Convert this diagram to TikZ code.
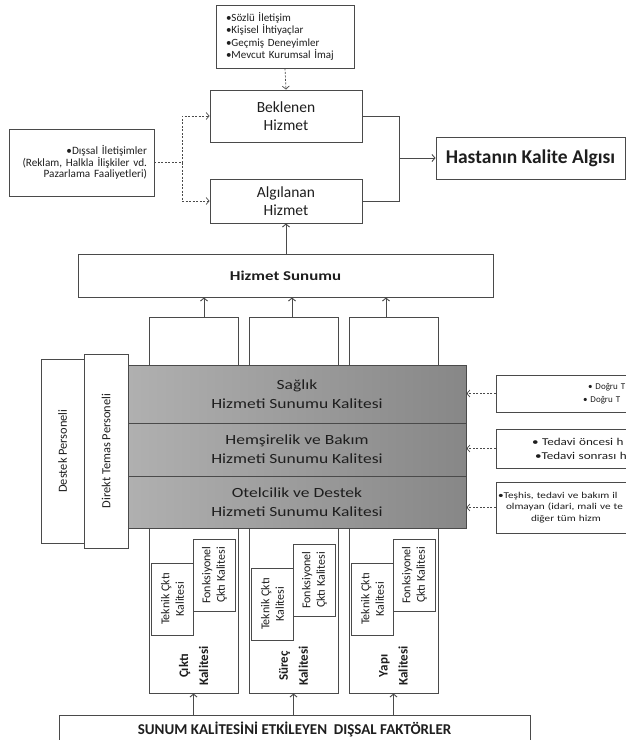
\documentclass[tikz,border=0pt]{standalone}
\usepackage{fontspec}
\setmainfont{Carlito}
\newfontfamily\wide{Carlito}[FakeStretch=1.25]
\usetikzlibrary{positioning, arrows.meta}
\definecolor{linec}{HTML}{4A4A4A}
\definecolor{txtc}{HTML}{1E1E1E}
\definecolor{bandl}{HTML}{B0B0B0}
\definecolor{bandr}{HTML}{878787}

\begin{document}
\begin{tikzpicture}[x=1pt, y=-1pt, >={Straight Barb[length=3pt,width=7pt]},
  box/.style={draw=linec, line width=0.9pt, inner sep=0pt, text=txtc, align=center},
  band/.style={box, left color=bandl, right color=bandr, minimum width=338pt, font=\wide\fontsize{14}{18.7}\selectfont},
  rot/.style={box, rotate=90},
  yan/.style={box, align=left},
  dsh/.style={draw=linec, line width=0.7pt, dash pattern=on 2pt off 1.5pt},
  solid line/.style={draw=linec, line width=0.9pt},
  arr/.style={solid line, ->}]
\useasboundingbox (0,0) rectangle (626,740);
\clip (0,0) rectangle (626,740);

% beklenen ve algilanan hizmet
\node[box, minimum width=138pt, minimum height=63pt, text width=118pt, align=left, font=\fontsize{11}{12.3}\selectfont] (kaynak) at (285,36.5) {•Sözlü İletişim\\•Kişisel İhtiyaçlar\\•Geçmiş Deneyimler\\•Mevcut Kurumsal İmaj};
\node[box, minimum width=152pt, minimum height=52pt, font=\fontsize{15.5}{17.5}\selectfont] (beklenen) at (286,116) {Beklenen\\Hizmet};
\node[box, minimum width=152pt, minimum height=44pt, font=\fontsize{15.5}{17.5}\selectfont] (algilanan) at (286,201) {Algılanan\\Hizmet};
\node[box, minimum width=189pt, minimum height=42pt, font=\fontsize{19.5}{21}\selectfont\bfseries] (hastanin) at (530.5,158) {Hastanın Kalite Algısı};
\node[box, minimum width=145pt, minimum height=67pt, text width=131pt, align=right, font=\fontsize{11.2}{11.8}\selectfont] (dissal) at (81.5,162.5) {•Dışsal İletişimler\\(Reklam, Halkla İlişkiler vd.\\Pazarlama Faaliyetleri)};

\coordinate (ayrim) at (182,162.5);
\draw[dsh] (dissal.east) -- (ayrim);
\draw[dsh,->] (ayrim) |- (beklenen.west);
\draw[dsh,->] (ayrim) |- (algilanan.west);
\draw[dsh,->] (kaynak.south) -- (beklenen.north);
\coordinate (birlesim) at (399,158);
\draw[solid line] (beklenen.east) -| (birlesim);
\draw[solid line] (algilanan.east) -| (birlesim);
\draw[arr] (birlesim) -- (hastanin.west);

% hizmet sunumu
\node[box, minimum width=415pt, minimum height=43pt, font=\wide\fontsize{13.5}{15}\selectfont\bfseries] (sunum) at (285.5,275.5) {Hizmet Sunumu};
\draw[arr] (sunum.north -| algilanan.south) -- (algilanan.south);

% sutunlar
\foreach \n/\x in {1/193.5, 2/293.5, 3/393.5}
  \node[box, minimum width=89pt, minimum height=376pt] (col\n) at (\x,505) {};
\draw[arr] ([xshift=10.5pt]col1.north) -- ([xshift=10.5pt]col1.north |- sunum.south);
\draw[arr] ([xshift=-1.5pt]col2.north) -- ([xshift=-1.5pt]col2.north |- sunum.south);
\draw[arr] ([xshift=-7.5pt]col3.north) -- ([xshift=-7.5pt]col3.north |- sunum.south);

\foreach \n/\x/\dy/\ad in {1/193.5/0/Çıktı, 2/293.5/5/Süreç, 3/393.5/0/Yapı} {
  \node[rot, minimum width=72pt, minimum height=41.5pt, font=\fontsize{12}{14.5}\selectfont] (teknik\n) at (\x-21,599+\dy) {Teknik Çktı\\Kalitesi};
  \node[rot, minimum width=72pt, minimum height=42pt, font=\fontsize{12}{14.5}\selectfont] (fonk\n) at (\x+21,575+\dy) {Fonksiyonel\\Çktı Kalitesi};
  \node[rot, draw=none, font=\fontsize{13}{20}\selectfont\bfseries] (ad\n) at (\x,666) {\ad\\Kalitesi};
}

% sunum kalitesi katmanlari
\node[band, minimum height=58pt] (saglik) at (297,394) {Sağlık\\Hizmeti Sunumu Kalitesi};
\node[band, minimum height=53pt] (hemsire) at (297,449.5) {Hemşirelik ve Bakım\\Hizmeti Sunumu Kalitesi};
\node[band, minimum height=52pt] (otel) at (297,502) {Otelcilik ve Destek\\Hizmeti Sunumu Kalitesi};

% personel
\node[rot, minimum width=184pt, minimum height=43pt, font=\fontsize{12.4}{14}\selectfont] (destek) at (62.5,451) {Destek Personeli};
\node[rot, minimum width=194pt, minimum height=44pt, font=\fontsize{12.4}{14}\selectfont] (direkt) at (106,451) {Direkt Temas Personeli};

% sag kutular
\node[yan, minimum width=248pt, minimum height=37pt, text width=74pt, font=\fontsize{9}{13}\selectfont] (dogru) at (620,393.5) {\hspace{5pt}• Doğru T\\• Doğru T};
\node[yan, minimum width=208pt, minimum height=39pt, text width=136pt, font=\wide\fontsize{10.5}{14}\selectfont] (tedavi) at (600,448.5) {• Tedavi öncesi h\\\hspace{3pt}•Tedavi sonrası h};
\node[yan, minimum width=208pt, minimum height=51pt, text width=206pt, font=\wide\fontsize{9}{11.7}\selectfont] (teshis) at (600,507.5) {\hspace{1pt}•Teşhis, tedavi ve bakım il\\\hspace{9pt}olmayan (idari, mali ve te\\\hspace{34pt}diğer tüm hizm};
\draw[dsh,->] (dogru.west) -- (dogru.west -| saglik.east);
\draw[dsh,->] (tedavi.west) -- (tedavi.west -| hemsire.east);
\draw[dsh,->] (teshis.west) -- (teshis.west -| otel.east);

% dissal faktorler
\node[box, minimum width=471pt, minimum height=28pt, font=\fontsize{15}{16}\selectfont\bfseries] (faktor) at (294.5,729) {SUNUM KALİTESİNİ ETKİLEYEN\ \ DIŞSAL FAKTÖRLER};
\foreach \n in {1,2,3}
  \draw[arr] (faktor.north -| col\n.south) -- (col\n.south);
\end{tikzpicture}
\end{document}
